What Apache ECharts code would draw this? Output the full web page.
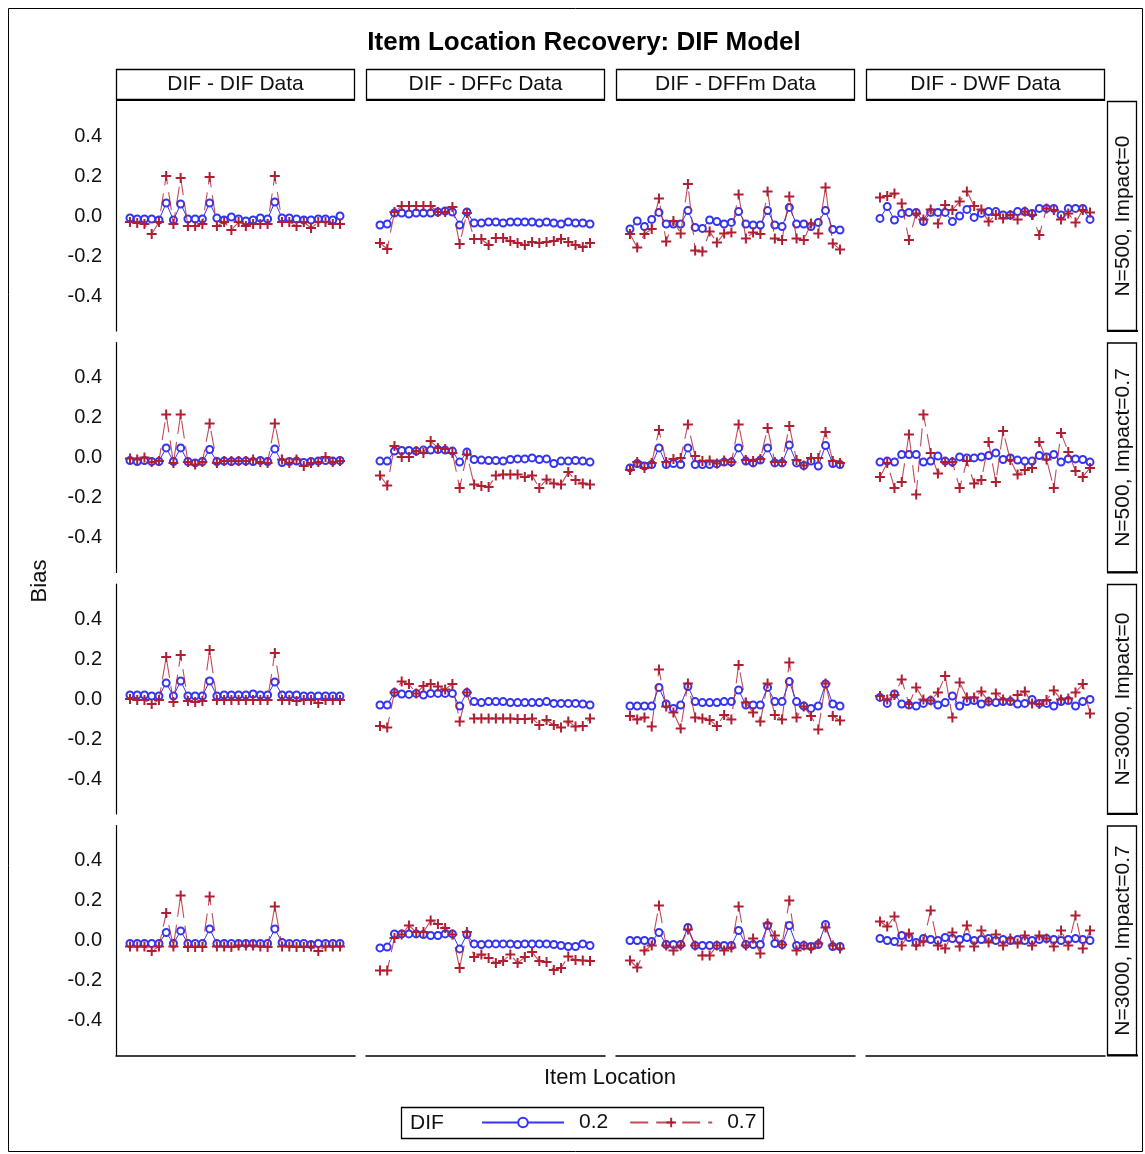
<!DOCTYPE html>
<html><head><meta charset="utf-8">
<script src="https://cdn.jsdelivr.net/npm/echarts@6/dist/echarts.min.js"></script>
<style>html,body{margin:0;padding:0;background:#fff}#c{width:1145px;height:1154px}</style>
</head><body><div id="c"></div>
<script>
const items = [1,2,3,4,5,6,7,8,9,10,11,12,13,14,15,16,17,18,19,20,21,22,23,24,25,26,27,28,29,30];
const colLabels = ['DIF - DIF Data','DIF - DFFc Data','DIF - DFFm Data','DIF - DWF Data'];
const rowLabels = ['N=500, Impact=0','N=500, Impact=0.7','N=3000, Impact=0','N=3000, Impact=0.7'];
const yTicks = [-0.4,-0.2,0,0.2,0.4];
const legendNames = ['0.2','0.7'];

// Row 1: N=500, Impact=0
const r1c1_02 = [-0.01,-0.015,-0.015,-0.015,-0.02,0.065,-0.02,0.06,-0.015,-0.015,-0.015,0.065,-0.01,-0.02,-0.005,-0.015,-0.025,-0.02,-0.01,-0.015,0.07,-0.01,-0.01,-0.015,-0.02,-0.02,-0.015,-0.015,-0.02,0.0];
const r1c1_07 = [-0.03,-0.035,-0.04,-0.09,-0.03,0.2,-0.04,0.19,-0.05,-0.05,-0.04,0.195,-0.05,-0.03,-0.07,-0.03,-0.05,-0.04,-0.04,-0.04,0.2,-0.03,-0.03,-0.05,-0.03,-0.06,-0.03,-0.03,-0.04,-0.04];
const r1c2_02 = [-0.045,-0.04,0.015,0.015,0.01,0.015,0.015,0.015,0.02,0.025,0.02,-0.045,0.02,-0.035,-0.035,-0.03,-0.03,-0.035,-0.03,-0.03,-0.03,-0.03,-0.035,-0.03,-0.035,-0.04,-0.03,-0.035,-0.035,-0.04];
const r1c2_07 = [-0.135,-0.165,0.02,0.05,0.05,0.05,0.05,0.05,0.02,0.02,0.045,-0.14,0.015,-0.115,-0.115,-0.145,-0.11,-0.11,-0.125,-0.135,-0.145,-0.13,-0.135,-0.13,-0.125,-0.115,-0.13,-0.145,-0.155,-0.135];
const r1c3_02 = [-0.065,-0.025,-0.053,-0.017,0.018,-0.04,-0.04,-0.04,0.027,-0.057,-0.062,-0.02,-0.028,-0.04,-0.032,0.022,-0.04,-0.045,-0.045,0.027,-0.045,-0.053,0.043,-0.04,-0.04,-0.053,-0.032,0.027,-0.067,-0.07];
const r1c3_07 = [-0.09,-0.157,-0.09,-0.065,0.088,-0.128,-0.025,-0.087,0.16,-0.173,-0.178,-0.078,-0.133,-0.087,-0.083,0.108,-0.112,-0.083,-0.09,0.122,-0.112,-0.12,0.097,-0.112,-0.12,-0.037,-0.087,0.143,-0.137,-0.167];
const r1c4_02 = [-0.012,0.047,-0.02,0.013,0.018,0.018,-0.028,0.018,0.018,0.018,-0.028,0.0,0.033,-0.007,0.013,0.022,0.022,0.005,0.005,0.022,0.022,0.013,0.038,0.038,0.038,0.005,0.038,0.038,0.038,-0.017];
const r1c4_07 = [0.093,0.1,0.113,0.063,-0.12,0.013,-0.017,0.033,-0.037,0.055,0.03,0.072,0.122,0.05,0.033,-0.028,0.005,-0.012,0.005,-0.017,0.022,0.005,-0.095,0.038,0.03,-0.017,0.013,-0.033,0.03,0.017];
// Row 2: N=500, Impact=0.7
const r2c1_02 = [-0.015,-0.02,-0.015,-0.02,-0.02,0.048,-0.02,0.048,-0.02,-0.027,-0.02,0.04,-0.02,-0.018,-0.02,-0.018,-0.018,-0.02,-0.015,-0.02,0.043,-0.025,-0.02,-0.018,-0.025,-0.02,-0.018,-0.015,-0.018,-0.015];
const r2c1_07 = [-0.005,-0.01,0.0,-0.023,-0.018,0.215,-0.027,0.215,-0.023,-0.035,-0.023,0.17,-0.027,-0.018,-0.018,-0.018,-0.018,-0.01,-0.023,-0.027,0.17,-0.01,-0.027,-0.01,-0.043,-0.027,-0.023,0.003,-0.023,-0.018];
const r2c2_02 = [-0.018,-0.018,0.032,0.035,0.035,0.032,0.037,0.037,0.04,0.037,0.032,-0.023,0.027,-0.01,-0.013,-0.015,-0.015,-0.018,-0.01,-0.007,-0.007,-0.002,-0.01,-0.007,-0.03,-0.018,-0.018,-0.015,-0.018,-0.023];
const r2c2_07 = [-0.09,-0.14,0.057,0.003,0.003,0.032,0.023,0.082,0.048,0.043,0.023,-0.152,0.015,-0.135,-0.143,-0.147,-0.09,-0.085,-0.085,-0.085,-0.097,-0.09,-0.152,-0.11,-0.13,-0.135,-0.073,-0.113,-0.13,-0.135];
const r2c3_02 = [-0.052,-0.03,-0.043,-0.035,0.048,-0.035,-0.03,-0.035,0.048,-0.035,-0.035,-0.035,-0.032,-0.023,-0.023,0.048,-0.018,-0.027,-0.013,0.048,-0.027,-0.027,0.062,-0.027,-0.04,-0.018,-0.043,0.06,-0.03,-0.035];
const r2c3_07 = [-0.063,-0.023,-0.052,-0.027,0.137,-0.023,-0.007,-0.002,0.165,0.007,-0.018,-0.015,-0.03,-0.015,-0.023,0.165,-0.013,-0.018,-0.007,0.148,-0.023,-0.023,0.157,-0.013,-0.04,-0.002,-0.002,0.128,-0.018,-0.027];
const r2c4_02 = [-0.023,-0.018,-0.023,0.015,0.015,0.015,-0.023,-0.018,0.007,-0.018,-0.023,0.003,-0.002,-0.002,0.003,0.01,0.023,-0.01,-0.002,-0.013,-0.018,-0.018,0.01,0.003,0.015,-0.023,-0.007,-0.007,-0.01,-0.023];
const r2c4_07 = [-0.097,-0.027,-0.152,-0.123,0.115,-0.185,0.215,0.023,-0.08,-0.023,-0.023,-0.152,-0.018,-0.13,-0.113,0.077,-0.123,0.132,-0.013,-0.085,-0.063,-0.052,0.077,-0.01,-0.152,0.123,0.027,-0.068,-0.097,-0.052];
// Row 3: N=3000, Impact=0
const r3c1_02 = [0.02,0.02,0.02,0.015,0.015,0.08,0.015,0.09,0.015,0.015,0.015,0.09,0.015,0.02,0.02,0.02,0.02,0.025,0.02,0.02,0.085,0.02,0.02,0.02,0.015,0.015,0.015,0.015,0.015,0.015];
const r3c1_07 = [0.0,-0.005,-0.005,-0.025,-0.005,0.21,-0.015,0.22,-0.01,-0.015,-0.01,0.245,-0.005,-0.005,-0.005,-0.005,-0.005,-0.005,-0.005,-0.005,0.23,-0.005,-0.005,-0.01,-0.005,-0.005,-0.02,-0.005,-0.005,-0.005];
const r3c2_02 = [-0.03,-0.03,0.032,0.025,0.023,0.028,0.02,0.028,0.028,0.028,0.028,-0.035,0.032,-0.013,-0.018,-0.013,-0.013,-0.013,-0.018,-0.018,-0.018,-0.018,-0.018,-0.013,-0.022,-0.022,-0.022,-0.022,-0.025,-0.03];
const r3c2_07 = [-0.135,-0.142,0.032,0.087,0.075,0.028,0.065,0.075,0.062,0.048,0.075,-0.113,0.032,-0.097,-0.097,-0.097,-0.097,-0.097,-0.097,-0.1,-0.1,-0.097,-0.13,-0.105,-0.13,-0.142,-0.113,-0.138,-0.135,-0.097];
const r3c3_02 = [-0.035,-0.035,-0.035,-0.035,0.058,-0.025,-0.047,-0.03,0.062,-0.013,-0.018,-0.018,-0.018,-0.013,-0.013,0.045,-0.03,-0.03,-0.03,0.058,-0.013,-0.013,0.087,-0.013,-0.035,-0.047,-0.035,0.075,-0.025,-0.035];
const r3c3_07 = [-0.085,-0.102,-0.092,-0.138,0.148,-0.038,-0.068,-0.147,0.078,-0.092,-0.097,-0.105,-0.135,-0.08,-0.102,0.17,-0.018,-0.068,-0.113,0.078,-0.08,-0.102,0.182,-0.092,-0.038,-0.085,-0.152,0.078,-0.085,-0.108];
const r3c4_02 = [0.008,-0.022,0.025,-0.025,-0.03,-0.035,-0.022,-0.008,-0.03,-0.018,0.015,-0.035,-0.013,-0.008,-0.025,-0.013,-0.018,-0.013,-0.013,-0.025,-0.022,-0.002,-0.022,-0.022,-0.035,-0.013,-0.008,-0.035,-0.013,-0.002];
const r3c4_07 = [0.015,-0.002,0.02,0.098,-0.025,0.058,-0.002,-0.008,0.032,0.115,-0.092,0.082,0.008,0.008,0.037,-0.013,0.028,-0.002,-0.008,0.02,0.037,-0.022,-0.025,-0.005,0.042,-0.002,0.003,0.032,0.075,-0.072];
// Row 4: N=3000, Impact=0.7
const r4c1_02 = [-0.015,-0.015,-0.015,-0.015,-0.015,0.04,-0.015,0.048,-0.015,-0.015,-0.015,0.058,-0.015,-0.015,-0.015,-0.015,-0.015,-0.015,-0.015,-0.015,0.058,-0.01,-0.015,-0.015,-0.015,-0.02,-0.015,-0.015,-0.015,-0.015];
const r4c1_07 = [-0.03,-0.03,-0.03,-0.053,-0.03,0.137,-0.03,0.225,-0.033,-0.033,-0.033,0.22,-0.03,-0.03,-0.033,-0.025,-0.025,-0.025,-0.03,-0.033,0.17,-0.03,-0.03,-0.033,-0.033,-0.03,-0.053,-0.03,-0.03,-0.03];
const r4c2_02 = [-0.037,-0.033,0.033,0.033,0.033,0.033,0.03,0.025,0.025,0.033,0.033,-0.042,0.03,-0.017,-0.02,-0.017,-0.017,-0.017,-0.017,-0.02,-0.017,-0.017,-0.017,-0.017,-0.02,-0.025,-0.03,-0.03,-0.017,-0.025];
const r4c2_07 = [-0.15,-0.15,0.013,0.03,0.075,0.042,0.042,0.1,0.083,0.063,0.03,-0.137,0.042,-0.083,-0.07,-0.087,-0.113,-0.103,-0.07,-0.113,-0.083,-0.058,-0.103,-0.108,-0.147,-0.137,-0.08,-0.097,-0.1,-0.103];
const r4c3_02 = [0.0,0.0,0.0,-0.005,0.04,-0.02,-0.02,-0.02,0.065,-0.025,-0.025,-0.025,-0.025,-0.025,-0.025,0.05,-0.02,-0.02,-0.02,0.075,-0.015,-0.02,0.075,-0.025,-0.025,-0.03,-0.02,0.08,-0.03,-0.03];
const r4c3_07 = [-0.1,-0.135,-0.05,-0.025,0.175,-0.025,-0.05,-0.025,0.055,-0.025,-0.075,-0.075,-0.025,-0.05,-0.035,0.17,-0.025,0.01,-0.065,0.085,0.025,-0.02,0.2,-0.05,-0.025,-0.04,-0.015,0.065,-0.025,-0.04];
const r4c4_02 = [0.01,0.0,-0.005,0.025,0.015,-0.01,0.01,0.005,0.0,0.015,0.01,0.005,0.015,0.0,0.005,0.01,0.0,0.005,0.0,0.005,0.0,0.0,0.005,0.01,0.005,0.0,0.005,0.01,0.005,0.0];
const r4c4_07 = [0.095,0.07,0.12,-0.025,0.035,-0.025,-0.005,0.15,-0.025,-0.04,0.04,-0.03,0.075,-0.03,0.05,-0.01,0.03,-0.025,0.01,-0.015,0.025,-0.025,0.025,0.01,-0.03,0.05,-0.025,0.125,-0.04,0.05];

const panels = [
  [[r1c1_02,r1c1_07],[r1c2_02,r1c2_07],[r1c3_02,r1c3_07],[r1c4_02,r1c4_07]],
  [[r2c1_02,r2c1_07],[r2c2_02,r2c2_07],[r2c3_02,r2c3_07],[r2c4_02,r2c4_07]],
  [[r3c1_02,r3c1_07],[r3c2_02,r3c2_07],[r3c3_02,r3c3_07],[r3c4_02,r3c4_07]],
  [[r4c1_02,r4c1_07],[r4c2_02,r4c2_07],[r4c3_02,r4c3_07],[r4c4_02,r4c4_07]]
];

const FONT = '"Liberation Sans", Arial, sans-serif';
const BLUE = '#3434f2';
const RED = '#b01e32';
const CROSS = 'path://M4,0L6,0L6,4L10,4L10,6L6,6L6,10L4,10L4,6L0,6L0,4L4,4Z';

const L0 = 116, CW = 239, CS = 250, T0 = 101, RH = 230, RS = 241.5;
const grids = [], xAxes = [], yAxes = [], series = [];
for (let r = 0; r < 4; r++) {
  for (let c = 0; c < 4; c++) {
    const g = grids.length;
    grids.push({left: L0 + CS * c, top: T0 + RS * r, width: CW, height: RH, containLabel: false});
    xAxes.push({
      type: 'value', gridIndex: g, min: -0.93, max: 32.07,
      show: r === 3,
      axisLine: {show: true, onZero: false, lineStyle: {color: '#000', width: 1.5}},
      axisTick: {show: false}, axisLabel: {show: false}, splitLine: {show: false}
    });
    yAxes.push({
      type: 'value', gridIndex: g, min: -0.575, max: 0.575,
      show: c === 0,
      axisLine: {show: true, onZero: false, lineStyle: {color: '#000', width: 1.2}},
      axisTick: {show: false},
      splitLine: {show: false},
      axisLabel: {
        show: true, customValues: yTicks, margin: 14,
        color: '#111', fontSize: 20, fontFamily: FONT,
        formatter: v => Number(v).toFixed(1)
      }
    });
    const [v02, v07] = panels[r][c];
    series.push({
      name: legendNames[0], type: 'line', xAxisIndex: g, yAxisIndex: g,
      data: items.map((x, i) => [x, v02[i]]),
      symbol: 'emptyCircle', symbolSize: 7,
      itemStyle: {color: BLUE, borderColor: BLUE, borderWidth: 1.5},
      lineStyle: {color: BLUE, width: 1},
      animation: false, z: 3
    });
    series.push({
      name: legendNames[1], type: 'line', xAxisIndex: g, yAxisIndex: g,
      data: items.map((x, i) => [x, v07[i]]),
      symbol: CROSS, symbolSize: 10,
      itemStyle: {color: RED, borderWidth: 0},
      lineStyle: {color: RED, width: 1.1, type: [18, 8], opacity: 0.8},
      animation: false, z: 4
    });
  }
}

const graphic = [];
graphic.push({type: 'rect', shape: {x: 8.5, y: 8.5, width: 1134, height: 1143}, style: {fill: null, stroke: '#000', lineWidth: 1}});
graphic.push({type: 'text', x: 584, y: 43, style: {text: 'Item Location Recovery: DIF Model', font: 'bold 26px ' + FONT, fill: '#000', textAlign: 'center', textVerticalAlign: 'middle'}});
colLabels.forEach((t, c) => {
  const x = L0 + CS * c;
  graphic.push({type: 'rect', shape: {x: x + 0.5, y: 69.5, width: CW - 1, height: 30}, style: {fill: '#fff', stroke: '#000', lineWidth: 1.3}});
  graphic.push({type: 'line', shape: {x1: x, y1: 100, x2: x + CW, y2: 100}, style: {stroke: '#000', lineWidth: 2}});
  graphic.push({type: 'text', x: x + CW / 2, y: 84, style: {text: t, font: '21px ' + FONT, fill: '#111', textAlign: 'center', textVerticalAlign: 'middle'}});
});
rowLabels.forEach((t, r) => {
  const y = T0 + RS * r;
  graphic.push({type: 'rect', shape: {x: 1107.5, y: y + 0.5, width: 29, height: RH - 1}, style: {fill: '#fff', stroke: '#000', lineWidth: 1.3}});
  graphic.push({type: 'line', shape: {x1: 1107, y1: y + RH, x2: 1138, y2: y + RH}, style: {stroke: '#000', lineWidth: 2}});
  graphic.push({type: 'text', x: 1123, y: y + RH / 2, rotation: Math.PI / 2, style: {text: t, font: '21px ' + FONT, fill: '#111', textAlign: 'center', textVerticalAlign: 'middle'}});
});
graphic.push({type: 'text', x: 610, y: 1078, style: {text: 'Item Location', font: '22px ' + FONT, fill: '#111', textAlign: 'center', textVerticalAlign: 'middle'}});
graphic.push({type: 'text', x: 40, y: 581, rotation: Math.PI / 2, style: {text: 'Bias', font: '22px ' + FONT, fill: '#111', textAlign: 'center', textVerticalAlign: 'middle'}});
graphic.push({type: 'rect', shape: {x: 401.5, y: 1107.5, width: 362, height: 31}, style: {fill: null, stroke: '#000', lineWidth: 1.3}});
graphic.push({type: 'text', x: 410, y: 1123, style: {text: 'DIF', font: '21px ' + FONT, fill: '#111', textAlign: 'left', textVerticalAlign: 'middle'}});

const chart = echarts.init(document.getElementById('c'), null, {renderer: 'canvas'});
chart.setOption({
  backgroundColor: '#fff',
  animation: false,
  grid: grids, xAxis: xAxes, yAxis: yAxes, series: series,
  legend: {
    data: legendNames, left: 476, top: 1107, itemWidth: 82, itemHeight: 12, itemGap: 21,
    textStyle: {fontSize: 21, fontFamily: FONT, color: '#111', padding: [0, 0, 0, 10]},
    selectedMode: false
  },
  graphic: graphic
});
</script></body></html>
